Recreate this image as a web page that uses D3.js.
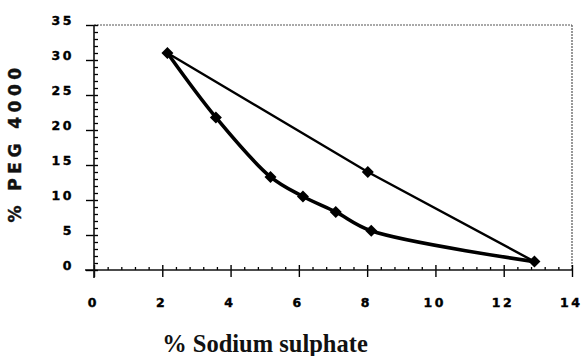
<!DOCTYPE html>
<html>
<head>
<meta charset="utf-8">
<script src="https://cdn.jsdelivr.net/npm/d3@7"></script>
<style>
  body { margin: 0; background: #fff; }
  svg { display: block; }
</style>
</head>
<body>
<div id="chart"></div>
<script>
// binodal curve points (% sodium sulphate, % PEG 4000)
const binodalX = [2.15, 3.57, 5.17, 6.12, 7.08, 8.12, 12.9];
const binodalY = [31.0, 21.8, 13.3, 10.5, 8.3, 5.6, 1.2];

// tie line points
const tieX = [2.15, 8.02, 12.9];
const tieY = [31.0, 14.0, 1.2];

const xTicks = [0, 2, 4, 6, 8, 10, 12, 14];
const yTicks = [0, 5, 10, 15, 20, 25, 30, 35];

const width = 581;
const height = 356;
const margin = { top: 25, right: 9, bottom: 86, left: 94 };

const svg = d3.select("#chart")
  .append("svg")
  .attr("width", width)
  .attr("height", height);

const x = d3.scaleLinear()
  .domain([0, 14])
  .range([margin.left, width - margin.right]);
const y = d3.scaleLinear()
  .domain([0, 35])
  .range([height - margin.bottom, margin.top]);

// frame (dotted top and right)
svg.append("line")
  .attr("x1", x(0)).attr("x2", x(14))
  .attr("y1", y(35)).attr("y2", y(35))
  .attr("stroke", "#555").attr("stroke-width", 1.2)
  .attr("stroke-dasharray", "2,1");
svg.append("line")
  .attr("x1", x(14)).attr("x2", x(14))
  .attr("y1", y(35)).attr("y2", y(0))
  .attr("stroke", "#555").attr("stroke-width", 1.2)
  .attr("stroke-dasharray", "2,1");

// minor ticks
const xMinor = d3.range(0, 14.01, 0.4).filter(v => Math.abs(v / 2 - Math.round(v / 2)) > 0.01);
const yMinor = d3.range(0, 35.01, 1).filter(v => v % 5 !== 0);

svg.append("g")
  .attr("transform", `translate(0, ${y(0)})`)
  .call(d3.axisTop(x).tickValues(xMinor).tickSize(3).tickFormat(""))
  .call(g => g.select(".domain").remove())
  .selectAll("line").attr("stroke-width", 1.3);

svg.append("g")
  .attr("transform", `translate(${x(0)}, 0)`)
  .call(d3.axisRight(y).tickValues(yMinor).tickSize(4).tickFormat(""))
  .call(g => g.select(".domain").remove())
  .selectAll("line").attr("stroke-width", 1.3);

const tickFont = g => g
  .attr("font-family", "DejaVu Sans, sans-serif")
  .attr("font-weight", "bold")
  .attr("font-size", 12.5)
  .attr("letter-spacing", 2.5)
  .attr("fill", "#000")
  .attr("stroke", "#000")
  .attr("stroke-width", 0.4);

// x axis
const xAxis = svg.append("g")
  .attr("transform", `translate(0, ${y(0)})`)
  .call(d3.axisBottom(x).tickValues(xTicks).tickSize(7).tickPadding(21));
xAxis.select(".domain").remove();
xAxis.selectAll("line").attr("y1", -5).attr("stroke-width", 1.4);
xAxis.selectAll("text").call(tickFont).attr("dx", "-0.1em");
svg.append("line")
  .attr("x1", x(0) - 9).attr("x2", x(14))
  .attr("y1", y(0)).attr("y2", y(0))
  .attr("stroke", "#111").attr("stroke-width", 1.6);

// y axis
const yAxis = svg.append("g")
  .attr("transform", `translate(${x(0)}, 0)`)
  .call(d3.axisLeft(y).tickValues(yTicks).tickSize(8).tickPadding(12));
yAxis.select(".domain").remove();
yAxis.selectAll("line").attr("x1", 4).attr("stroke-width", 1.4);
yAxis.selectAll("text").call(tickFont).attr("dy", "-0.05em");
svg.append("line")
  .attr("x1", x(0)).attr("x2", x(0))
  .attr("y1", y(35)).attr("y2", y(0) + 8)
  .attr("stroke", "#111").attr("stroke-width", 1.6);

// binodal curve
const binodal = binodalX.map((v, i) => ({ x: v, y: binodalY[i] }));
const tie = tieX.map((v, i) => ({ x: v, y: tieY[i] }));

const curve = d3.line()
  .curve(d3.curveCatmullRom.alpha(0.5))
  .x(d => x(d.x))
  .y(d => y(d.y));

svg.append("path")
  .datum(binodal)
  .attr("fill", "none")
  .attr("stroke", "#000")
  .attr("stroke-width", 3.6)
  .attr("d", curve);

// tie line
svg.append("path")
  .datum(tie)
  .attr("fill", "none")
  .attr("stroke", "#000")
  .attr("stroke-width", 2.4)
  .attr("d", d3.line().x(d => x(d.x)).y(d => y(d.y)));

// diamond markers
svg.selectAll(".pt")
  .data(binodal.concat([tie[1]]))
  .enter()
  .append("path")
    .attr("class", "pt")
    .attr("transform", d => `translate(${x(d.x)}, ${y(d.y)}) rotate(45)`)
    .attr("d", d3.symbol().type(d3.symbolSquare).size(72))
    .attr("fill", "#000");

// axis labels
svg.append("text")
  .attr("x", 265)
  .attr("y", 352)
  .attr("text-anchor", "middle")
  .attr("font-family", "Liberation Serif, Times New Roman, serif")
  .attr("font-weight", "bold")
  .attr("font-size", 24.5)
  .attr("fill", "#111")
  .text("% Sodium sulphate");

svg.append("text")
  .attr("transform", `translate(21, 143) rotate(-90)`)
  .attr("text-anchor", "middle")
  .attr("font-family", "DejaVu Sans, sans-serif")
  .attr("font-weight", "bold")
  .attr("font-size", 17)
  .attr("letter-spacing", 4.5)
  .attr("fill", "#111")
  .attr("stroke", "#111")
  .attr("stroke-width", 0.4)
  .text("% PEG 4000");
</script>
</body>
</html>
